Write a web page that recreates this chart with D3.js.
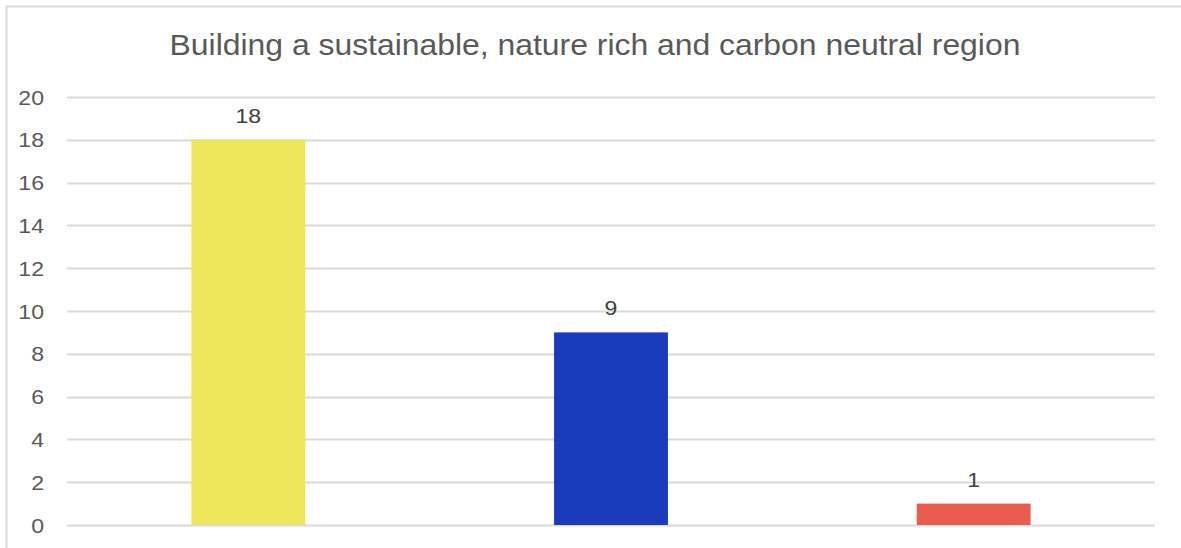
<!DOCTYPE html>
<html>
<head>
<meta charset="utf-8">
<script src="https://cdn.jsdelivr.net/npm/d3@7"></script>
<style>
  body { margin: 0; background: #fff; }
  svg { display: block; font-family: "Liberation Sans", Arial, sans-serif; }
</style>
</head>
<body>
<div id="chart"></div>
<script>
const categories = ['A', 'B', 'C'];
const values = [18, 9, 1];
const barColors = ['#ede55a', '#1a3bbb', '#e95c50'];
const yTicks = [0, 2, 4, 6, 8, 10, 12, 14, 16, 18, 20];
const chartTitle = 'Building a sustainable, nature rich and carbon neutral region';

const W = 1181, H = 548;
const margin = { top: 97, right: 26, bottom: 23, left: 67 };
const width = W - margin.left - margin.right;
const height = H - margin.top - margin.bottom;
const stretch = 1.1; // glyphs in the source are a bit wider than Liberation Sans

const svg = d3.select('#chart').append('svg')
    .attr('width', W)
    .attr('height', H);

// Chart frame
svg.append('path')
    .attr('d', `M6.5,${H} V6.5 H${W}`)
    .attr('fill', 'none')
    .attr('stroke', '#d9d9d9')
    .attr('stroke-width', 2);

svg.append('text')
    .attr('transform', `translate(595,55) scale(${stretch},1)`)
    .attr('text-anchor', 'middle')
    .attr('font-size', 29)
    .attr('fill', '#595959')
    .text(chartTitle);

const g = svg.append('g')
    .attr('transform', `translate(${margin.left},${margin.top})`);

const x = d3.scaleBand()
    .domain(categories)
    .range([0, width])
    .paddingInner(0.686)
    .paddingOuter(0.343);

const y = d3.scaleLinear()
    .domain([0, 20])
    .range([height, 0]);

// Gridlines
g.selectAll('.grid')
    .data(yTicks)
    .enter().append('line')
    .attr('class', 'grid')
    .attr('x1', 0)
    .attr('x2', width)
    .attr('y1', d => Math.round(y(d)) + 0.5)
    .attr('y2', d => Math.round(y(d)) + 0.5)
    .attr('stroke', '#d9d9d9')
    .attr('stroke-width', 2);

// Y axis labels
g.selectAll('.ytick')
    .data(yTicks)
    .enter().append('text')
    .attr('class', 'ytick')
    .attr('transform', d => `translate(-23,${y(d) + 7.5}) scale(${stretch},1)`)
    .attr('text-anchor', 'end')
    .attr('font-size', 21)
    .attr('fill', '#595959')
    .text(d => d);

// Bars
g.selectAll('.bar')
    .data(values)
    .enter().append('rect')
    .attr('class', 'bar')
    .attr('x', (d, i) => x(categories[i]))
    .attr('y', d => y(d))
    .attr('width', x.bandwidth())
    .attr('height', d => height - y(d))
    .attr('fill', (d, i) => barColors[i]);

// Data labels
g.selectAll('.label')
    .data(values)
    .enter().append('text')
    .attr('class', 'label')
    .attr('transform', (d, i) => `translate(${x(categories[i]) + x.bandwidth() / 2},${y(d) - 17}) scale(${stretch},1)`)
    .attr('text-anchor', 'middle')
    .attr('font-size', 21)
    .attr('fill', '#404040')
    .text(d => d);
</script>
</body>
</html>
